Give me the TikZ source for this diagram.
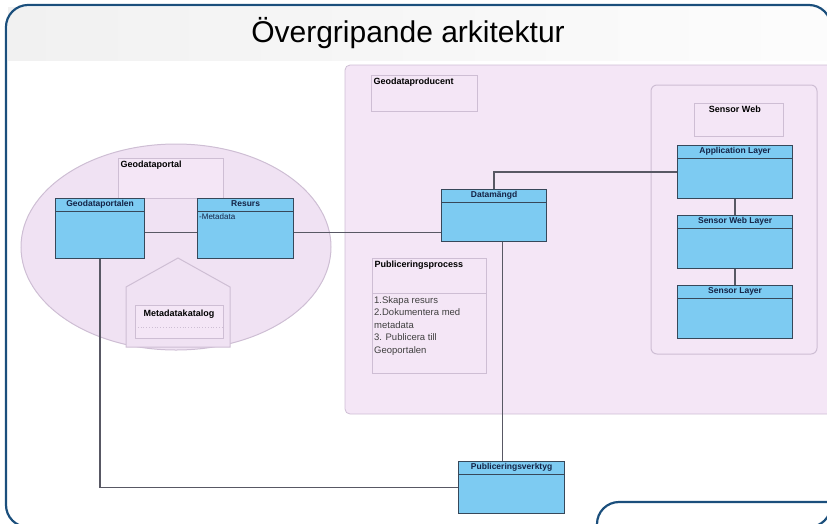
\documentclass[tikz,border=0pt]{standalone}
\usepackage{fontspec}
\setmainfont{Liberation Sans}
\usetikzlibrary{positioning,calc}

\definecolor{framenavy}{RGB}{27,79,124}
\definecolor{classblue}{RGB}{125,203,242}
\definecolor{classline}{RGB}{55,72,90}
\definecolor{headtext}{RGB}{20,35,70}
\definecolor{pinkfill}{RGB}{244,230,246}
\definecolor{ovalfill}{RGB}{240,226,243}
\definecolor{pinkline}{RGB}{206,190,212}
\definecolor{wirecol}{RGB}{88,88,100}

\tikzset{
  frameline/.style={draw=framenavy, line width=2.2pt},
  umlclass/.style={draw=classline, fill=classblue, line width=1.2pt, anchor=north west, inner sep=0pt,
    path picture={\draw[classline, line width=1pt] ([yshift=-13pt]path picture bounding box.north west) -- ([yshift=-13pt]path picture bounding box.north east);}},
  umlhead/.style={anchor=north, inner sep=2pt, text=headtext, font=\bfseries\fontsize{8.5}{9}\selectfont},
  notebox/.style={draw=pinkline, fill=pinkfill, line width=0.8pt, anchor=north west, inner sep=0pt},
  boxtitle/.style={anchor=north west, inner sep=2.5pt, font=\bfseries\fontsize{9}{10}\selectfont},
  wire/.style={draw=wirecol, line width=1.4pt}
}

\begin{document}
\begin{tikzpicture}[x=1pt,y=1pt,yscale=-1,xscale=1]
\useasboundingbox (0,0) rectangle (827,523);
\clip (0,0) rectangle (827,523);

%Title band
\shade[left color=gray!11, right color=gray!2] (8,7) rectangle (828,60);
\draw[frameline, rounded corners=22] (6,5) rectangle (831,527);
\draw[frameline, rounded corners=22] (597,540) |- (840,502);
% Text Node
\node[font=\fontsize{30}{33}\selectfont] (title) at (408,33) {Övergripande arkitektur};

%Geodataproducent area
\draw[draw=pinkline, fill=pinkfill, line width=0.8pt, rounded corners=5] (345,65) rectangle (840,414);
\node[notebox, minimum width=106, minimum height=36, label={[boxtitle]north west:Geodataproducent}] (producent) at (371,75) {};

%Sensor Web area
\draw[draw=pinkline, fill=pinkfill, line width=1pt, rounded corners=6] (651,85) rectangle (817,354);
\node[notebox, minimum width=89, minimum height=33, label={[boxtitle, anchor=north, xshift=-4pt]north:Sensor Web}] (sensorweb) at (694,103) {};
\node[umlclass, minimum width=115, minimum height=53, label={[umlhead]north:Application Layer}] (app) at (677,145) {};
\node[umlclass, minimum width=115, minimum height=53, label={[umlhead]north:Sensor Web Layer}] (swl) at (677,215) {};
\node[umlclass, minimum width=115, minimum height=53, label={[umlhead]north:Sensor Layer}] (sl) at (677,285) {};

%Geodataportal oval
\draw[draw=pinkline, fill=ovalfill, line width=1pt] (176,247) ellipse [x radius=155, y radius=103];
\node[notebox, minimum width=105, minimum height=40, label={[boxtitle]north west:Geodataportal}] (portal) at (118,158) {};
\node[umlclass, minimum width=89, minimum height=60, label={[umlhead]north:Geodataportalen}] (portalen) at (55,198) {};
\node[umlclass, minimum width=96, minimum height=60, label={[umlhead]north:Resurs},
  label={[anchor=north west, inner sep=2pt, yshift=-13pt, text=headtext, font=\fontsize{8}{9}\selectfont]north west:-Metadata}] (resurs) at (197,198) {};

%Metadatakatalog package
\draw[draw=pinkline, fill=ovalfill, line width=1pt] (126,347) -- (126,287) -- (178,258) -- (230,287) -- (230,347) -- cycle;
\node[notebox, minimum width=88, minimum height=33] (katalog) at (135,305) {};
\draw[pinkline, dotted, line width=0.8pt] (135,327) -- (223,327);
% Text Node
\node[font=\bfseries\fontsize{9}{10}\selectfont] (katalogtext) at (179,314) {Metadatakatalog};

%Datamangd and publishing
\node[umlclass, minimum width=105, minimum height=52, label={[umlhead]north:Datamängd}] (datamangd) at (441,189) {};
\node[notebox, minimum width=114, minimum height=115, label={[boxtitle]north west:Publiceringsprocess}] (process) at (372,258) {};
\draw[pinkline, line width=0.8pt] (372,293) -- (486,293);
% Text Node
\node[anchor=north west, inner sep=0pt, align=left, text=black!75, font=\fontsize{9.5}{12.6}\selectfont] (processtext) at (374,296)
  {1.Skapa resurs\\2.Dokumentera med\\metadata\\3. Publicera till\\Geoportalen};
\node[umlclass, minimum width=106, minimum height=52, label={[umlhead]north:Publiceringsverktyg}] (verktyg) at (458,461) {};

%Connectors
\draw[wire] ([yshift=4pt]portalen.east) -- ([yshift=4pt]resurs.west);
\draw[wire] ([yshift=4pt]resurs.east) -- ([yshift=4pt]resurs.east -| datamangd.west);
\draw[wire] (datamangd.north) |- (app.west);
\draw[wire] (app.south) -- (swl.north);
\draw[wire] (swl.south) -- (sl.north);
\draw[wire] ([xshift=8.5pt]datamangd.south) -- ([xshift=8.5pt]datamangd.south |- verktyg.north);
\draw[wire] (portalen.south) |- (verktyg.west);

\end{tikzpicture}
\end{document}
